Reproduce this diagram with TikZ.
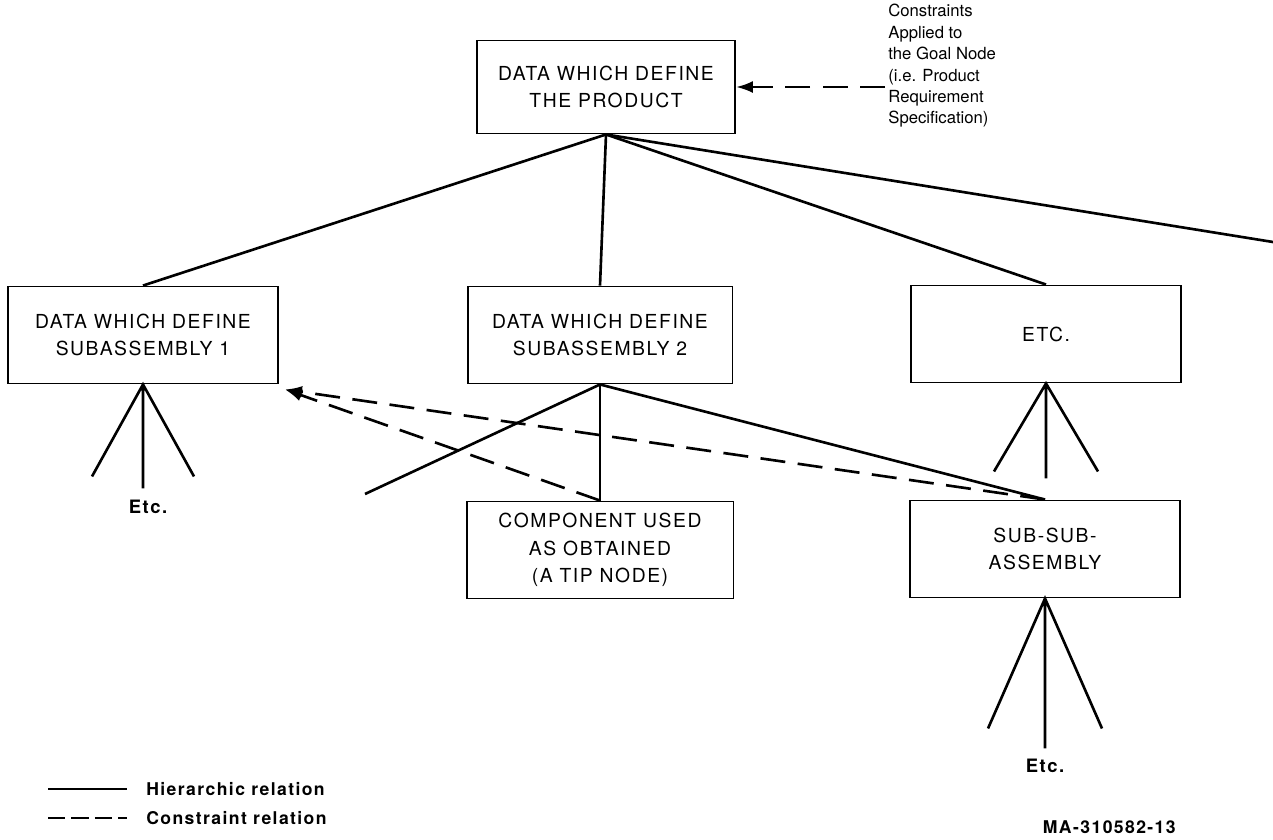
\documentclass[tikz,border=0pt]{standalone}
\usepackage{fontspec}
\setmainfont{TeX Gyre Heros}
\newfontfamily\boxfont[LetterSpace=8]{TeX Gyre Heros}
\newfontfamily\legfont[LetterSpace=8]{TeX Gyre Heros}
\usetikzlibrary{arrows.meta,calc}

\tikzset{
  box/.style={draw, line width=1.1pt, minimum width=5.4cm, minimum height=1.94cm,
    align=center, inner sep=0pt, font=\boxfont\fontsize{11}{15.8}\selectfont},
  hier/.style={line width=1.5pt},
  constr/.style={line width=1.5pt, dash pattern=on 0.5cm off 0.25cm,
    -{Latex[length=0.34cm,width=0.24cm]}},
  note/.style={align=left, inner sep=0pt, font=\fontsize{9.5}{12.2}\selectfont},
  leg/.style={anchor=west, inner sep=0pt, font=\legfont\bfseries\fontsize{10}{12}\selectfont},
  etcnote/.style={inner sep=0pt, font=\legfont\bfseries\fontsize{10.5}{12}\selectfont},
}

\begin{document}
\begin{tikzpicture}[x=0.02cm,y=-0.02cm]
\useasboundingbox (0,0) rectangle (1273,839);

% boxes
\node[box, minimum width=5.16cm, minimum height=1.86cm] (prod) at (606,87) {DATA WHICH DEFINE\\THE PRODUCT};
\node[box] (sub1) at (143,335) {DATA WHICH DEFINE\\SUBASSEMBLY 1};
\node[box, minimum width=5.3cm] (sub2) at (600,335) {DATA WHICH DEFINE\\SUBASSEMBLY 2};
\node[box] (etc) at (1046,334) {ETC.};
\node[box, minimum width=5.34cm] (comp) at (600,550) {COMPONENT USED\\AS OBTAINED\\(A TIP NODE)};
\node[box] (subsub) at (1045,549) {SUB-SUB-\\ASSEMBLY};

% goal constraints
\node[note, anchor=north west] (goalnote) at (888,4) {Constraints\\Applied to\\the Goal Node\\(i.e. Product\\Requirement\\Specification)};
\coordinate (notetip) at (885,87);
\draw[constr] (notetip) -- (prod.east);

% hierarchy
\coordinate (offedge) at (1273,242);
\draw[hier] (prod.south) -- (sub1.north);
\draw[hier] (prod.south) -- (sub2.north);
\draw[hier] (prod.south) -- (etc.north);
\draw[hier] (prod.south) -- (offedge);

\coordinate (loose) at (365,494);
\draw[hier] (sub2.south) -- (loose);
\draw[hier] (sub2.south) -- (comp.north);
\draw[hier] (sub2.south) -- (subsub.north);

% tripods
\foreach \n/\w/\h/\m in {sub1/51/92/104, etc/52/88/95, subsub/57/130/150}{
  \coordinate (\n-l) at ($(\n.south)+(-\w,\h)$);
  \coordinate (\n-m) at ($(\n.south)+(0,\m)$);
  \coordinate (\n-r) at ($(\n.south)+(\w,\h)$);
  \draw[hier] (\n-l) -- (\n.south) -- (\n-r) (\n.south) -- (\n-m);
}
\node[etcnote] (etcA) at (148,507) {Etc.};
\node[etcnote] (etcB) at (1045,766) {Etc.};

% constraints to subassembly 1
\coordinate (hit) at ($(sub1.south east)+(6,5)$);
\draw[constr] (comp.north) -- (hit);
\draw[constr] (subsub.north) -- (hit);

% legend
\coordinate (la) at (48,789);
\coordinate (lb) at (127,789);
\coordinate (lc) at (48,818);
\coordinate (ld) at (127,818);
\draw[hier] (la) -- (lb);
\draw[hier, dash pattern=on 0.35cm off 0.12cm] (lc) -- (ld);
\node[leg] (hiertxt) at (146,789) {Hierarchic relation};
\node[leg] (constrtxt) at (146,818) {Constraint relation};

\node[anchor=east, inner sep=0pt, font=\legfont\bfseries\fontsize{10}{12}\selectfont] (figno) at (1176,827) {MA-310582-13};
\end{tikzpicture}
\end{document}
